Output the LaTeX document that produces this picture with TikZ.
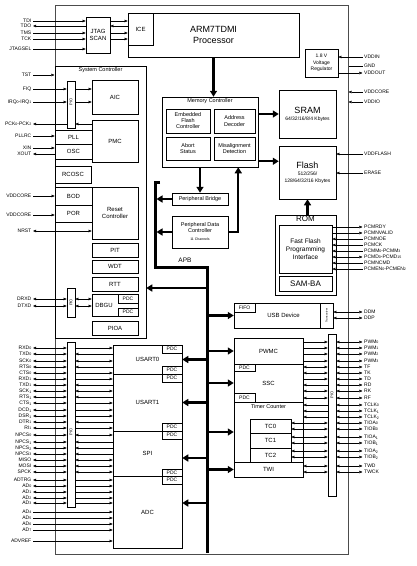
\documentclass[tikz,border=0pt]{standalone}
\usepackage{fontspec}
\setmainfont{Liberation Sans}
\usetikzlibrary{arrows.meta,positioning}
\newcommand\fsz[2]{\fontsize{#1}{#2}\selectfont}
\newcommand\lo[1]{\raisebox{-0.5pt}{\fsz{3.6}{4}#1}}

\begin{document}
\begin{tikzpicture}[
    x=1pt,y=-1pt,
    font=\fsz{6}{7},
    wh/.style 2 args={minimum width=#1pt,minimum height=#2pt},
    blk/.style={draw,line width=0.5pt,fill=white,inner sep=0.5pt,align=center},
    pdc/.style={blk,font=\fsz{5}{5}},
    sigl/.style={inner sep=1.5pt,font=\fsz{5}{5}},
    ttl/.style={inner sep=0pt,font=\fsz{5.5}{6}},
    arE/.style={-{Triangle[length=3.2pt,width=2.6pt]},line width=0.45pt},
    arS/.style={{Triangle[length=3.2pt,width=2.6pt]}-,line width=0.45pt},
    arB/.style={{Triangle[length=3.2pt,width=2.6pt]}-{Triangle[length=3.2pt,width=2.6pt]},line width=0.45pt},
    arN/.style={line width=0.45pt},
    bus/.style={line width=3pt},
    busar/.style={-{Triangle[length=6pt,width=7pt]},line width=2.2pt}
  ]
  \useasboundingbox (0,0) rectangle (416,566);

  % chip outline
  \node[blk,wh={293}{549},draw=black!70,line width=1pt] (chip) at (201.5,279.5) {};

  % core and jtag
  \node[blk,wh={171}{44},font=\fsz{9}{11}] (proc) at (213.5,35) {ARM7TDMI\\Processor};
  \node[blk,wh={25}{32}] (ice) at (140.5,29) {ICE};
  \node[blk,wh={24}{36}] (jtag) at (98,35) {JTAG\\SCAN};
  \node[blk,wh={33}{28},font=\fsz{5}{6.5}] (vreg) at (321.5,63) {1.8 V\\Voltage\\Regulator};

  % system controller
  \node[blk,wh={91}{272}] (sysc) at (100.5,202) {};
  \node[ttl,below=2pt of sysc.north] (sysct) {System Controller};
  \node[blk,wh={8}{47}] (sysPio) at (71,104.5) {};
  \node[ttl,rotate=90,font=\fsz{4}{4}] (sysPiot) at (71,102) {PIO};
  \node[blk,wh={46}{34}] (aic) at (115,97) {AIC};
  \node[blk,wh={46}{42}] (pmc) at (115,141) {PMC};
  \node[blk,wh={37}{14}] (pll) at (73.5,137) {PLL};
  \node[blk,wh={37}{15}] (osc) at (73.5,151.5) {OSC};
  \node[blk,wh={36}{17}] (rcosc) at (73,174.5) {RCOSC};
  \node[blk,wh={37}{18}] (bod) at (73.5,196) {BOD};
  \node[blk,wh={37}{17}] (por) at (73.5,213.5) {POR};
  \node[blk,wh={46}{52}] (rstc) at (115,213) {Reset\\Controller};
  \node[blk,wh={46}{14}] (pit) at (115,250) {PIT};
  \node[blk,wh={46}{13}] (wdt) at (115,266.5) {WDT};
  \node[blk,wh={46}{14}] (rtt) at (115,284) {RTT};
  \node[blk,wh={46}{22}] (dbgu) at (115,305) {};
  \node[ttl,font=\fsz{6}{7}] (dbgut) at (104,305) {DBGU};
  \node[pdc,wh={20}{9}] (dpdc1) at (128,298.5) {PDC};
  \node[pdc,wh={20}{8}] (dpdc2) at (128,312) {PDC};
  \node[blk,wh={46}{14}] (pioa) at (115,328) {PIOA};
  \node[blk,wh={8}{29}] (dbgPio) at (71,302.5) {};
  \node[ttl,rotate=90,font=\fsz{4}{4}] (dbgPiot) at (71,302.5) {PIO};

  % memory side
  \node[blk,wh={96}{70}] (memc) at (210,132) {};
  \node[ttl,below=2pt of memc.north] (memct) {Memory Controller};
  \node[blk,wh={44}{24},font=\fsz{5.5}{6}] (efc) at (188,121) {Embedded\\Flash\\Controller};
  \node[blk,wh={41}{24},font=\fsz{5.5}{6.5}] (adec) at (234.5,121) {Address\\Decoder};
  \node[blk,wh={44}{23},font=\fsz{5.5}{6.5}] (abort) at (188,148.5) {Abort\\Status};
  \node[blk,wh={41}{23},font=\fsz{5.5}{6.5}] (misal) at (234.5,148.5) {Misalignment\\Detection};
  \node[blk,wh={56}{12},font=\fsz{5.5}{6}] (bridge) at (200,199) {Peripheral Bridge};
  \node[blk,wh={56}{32},font=\fsz{5.5}{6}] (pdcc) at (200,232)
    {Peripheral Data\\Controller\\[2pt]{\fsz{3.5}{4}11 Channels}};
  \node[blk,wh={57}{48}] (sram) at (307.5,114)
    {{\fsz{9}{10}SRAM}\\{\fsz{5}{6}64/32/16/8/4 Kbytes}};
  \node[blk,wh={57}{53}] (flash) at (307.5,172.5)
    {{\fsz{9}{10}Flash}\\{\fsz{5}{5.5}512/256/}\\{\fsz{5}{5.5}128/64/32/16 Kbytes}};
  \node[blk,wh={61}{80}] (rom) at (305.5,255) {};
  \node[ttl,below=1pt of rom.north,font=\fsz{8}{8}] (romt) {ROM};
  \node[blk,wh={53}{48},font=\fsz{6.5}{8}] (ffpi) at (305.5,249) {Fast Flash\\Programming\\Interface};
  \node[blk,wh={53}{15},font=\fsz{8}{8}] (samba) at (305.5,283.5) {SAM-BA};

  % peripherals right
  \node[blk,wh={99}{25}] (usb) at (283.5,315.5) {USB Device};
  \node[pdc,wh={21}{9}] (fifo) at (244.5,307.5) {FIFO};
  \node[blk,wh={13}{25}] (xcvr) at (326.5,315.5) {};
  \node[ttl,rotate=90,font=\fsz{2.8}{3}] (xcvrt) at (xcvr) {Transceiver};
  \node[blk,wh={69}{26}] (pwmc) at (268.5,351) {PWMC};
  \node[blk,wh={69}{38}] (ssc) at (268.5,383) {SSC};
  \node[pdc,wh={21}{7}] (spdc1) at (244.5,367.5) {PDC};
  \node[pdc,wh={21}{9}] (spdc2) at (244.5,397.5) {PDC};
  \node[blk,wh={69}{60}] (tc) at (268.5,432) {};
  \node[ttl,below=3pt of tc.north,font=\fsz{5.5}{6}] (tct) {Timer Counter};
  \node[blk,wh={41}{14}] (tc0) at (270.5,426) {TC0};
  \node[blk,wh={41}{15}] (tc1) at (270.5,440.5) {TC1};
  \node[blk,wh={41}{14}] (tc2) at (270.5,455) {TC2};
  \node[blk,wh={69}{15}] (twi) at (268.5,469.5) {TWI};
  \node[blk,wh={8}{162}] (pioR) at (332,415) {};
  \node[ttl,rotate=90,font=\fsz{4}{4}] (pioRt) at (332,395) {PIO};

  % peripherals left
  \node[blk,wh={69}{29}] (us0) at (147.5,359.5) {USART0};
  \node[blk,wh={69}{57}] (us1) at (147.5,402.5) {USART1};
  \node[blk,wh={69}{45}] (spi) at (147.5,453.5) {SPI};
  \node[blk,wh={69}{72}] (adc) at (147.5,512) {ADC};
  \node[pdc,wh={20}{8}] (pdc1) at (172,349) {PDC};
  \node[pdc,wh={20}{8}] (pdc2) at (172,370) {PDC};
  \node[pdc,wh={20}{8}] (pdc3) at (172,378) {PDC};
  \node[pdc,wh={20}{8}] (pdc4) at (172,427) {PDC};
  \node[pdc,wh={20}{8}] (pdc5) at (172,435) {PDC};
  \node[pdc,wh={20}{7}] (pdc6) at (172,472.5) {PDC};
  \node[pdc,wh={20}{8}] (pdc7) at (172,480) {PDC};
  \node[blk,wh={8}{165}] (pioL) at (71,424.5) {};
  \node[ttl,rotate=90,font=\fsz{4}{4}] (pioLt) at (71,432) {PIO};

  % APB
  \coordinate (apbTop) at (160,182);
  \coordinate (apbL) at (155,182);
  \coordinate (apbKnee) at (155,267);
  \coordinate (apbR) at (207,267);
  \coordinate (apbEnd) at (207,553);
  \draw[bus] (apbTop) -- (apbL) -- (apbKnee) -- (apbR) -- (apbEnd);
  \node[ttl,font=\fsz{6.5}{7}] (apbt) at (185,260) {APB};

  \draw[busar,shorten >=1.5pt] (bridge.west) -- (bridge.west -| apbL);
  \draw[busar,shorten >=1.5pt] (pdcc.west) -- (pdcc.west -| apbL);
  \draw[busar] ([yshift=-4pt]rtt.east -| apbR) -- ([yshift=-4pt]rtt.east -| sysc.east);
  \foreach \p in {usb,pwmc,ssc,tc,twi}
    \draw[busar] (\p.west -| apbR) -- (\p.west);
  \foreach \p in {us0,us1}
    \draw[busar] (\p.east -| apbR) -- (\p.east);
  \draw[busar] ([yshift=-4.5pt]spi.east -| apbR) -- ([yshift=-4.5pt]spi.east);
  \draw[busar] ([yshift=9pt]adc.east -| apbR) -- ([yshift=9pt]adc.east);

  % memory paths
  \draw[busar] (proc.south) -- (proc.south |- memc.north);
  \draw[busar] (bridge.north |- memc.south) -- (bridge.north);
  \draw[busar] (pdcc.east) -| ([xshift=-20pt]memc.south east);
  \draw[busar] (memc.east |- sram.west) -- (sram.west);
  \draw[busar] ([yshift=6pt]memc.south east) -- ([yshift=6pt]memc.south east -| flash.west);
  \draw[busar] (flash.south |- rom.north) -- (flash.south);

  % left pins, system side
  \foreach \s/\y/\ar/\dst [count=\i] in {TDI/21/arE/jtag, TDO/26/arS/jtag, TMS/33/arE/jtag,
      TCK/39/arE/jtag, JTAGSEL/49/arE/jtag, TST/75/arE/chip, FIQ/89/arE/sysPio,
      IRQ\lo{0}-IRQ\lo{1}/102/arE/sysPio, PCK\lo{0}-PCK\lo{2}/124/arS/sysPio, PLLRC/136/arE/pll,
      XIN/148/arE/osc, XOUT/154/arS/osc, VDDCORE/196/arE/bod, VDDCORE/215/arE/por,
      NRST/231/arB/rstc, DRXD/299/arB/dbgPio, DTXD/306/arB/dbgPio}
  {
    \node[sigl,anchor=east] (ul\i) at (33,\y) {\s};
    \draw[\ar] (ul\i.east) -- (ul\i -| \dst.west);
  }
  \foreach \i/\ar in {1/arE,2/arS,3/arE,4/arE}
    \draw[\ar] (jtag.east |- ul\i) -- (ice.west |- ul\i);
  \draw[arE] (sysPio.east |- ul7) -- (aic.west |- ul7);
  \draw[arE] (sysPio.east |- ul8) -- (aic.west |- ul8);
  \draw[arS] (sysPio.east |- ul9) -- (pmc.west |- ul9);
  \draw[arB] (dbgPio.east |- ul16) -- (dbgu.west |- ul16);
  \draw[arB] (dbgPio.east |- ul17) -- (dbgu.west |- ul17);

  % left pins, peripherals
  \foreach \s/\y/\ar/\dst [count=\i] in {RXD\lo{0}/348/arE/us0, TXD\lo{0}/354/arS/us0,
      SCK\lo{0}/361/arB/us0, RTS\lo{0}/367/arS/us0, CTS\lo{0}/373/arE/us0,
      RXD\lo{1}/379/arE/us1, TXD\lo{1}/385/arS/us1, SCK\lo{1}/391/arB/us1, RTS\lo{1}/397/arS/us1,
      CTS\lo{1}/403/arE/us1, DCD\lo{1}/410/arE/us1, DSR\lo{1}/416/arE/us1, DTR\lo{1}/422/arS/us1,
      RI\lo{1}/428/arE/us1, NPCS\lo{0}/435/arB/spi, NPCS\lo{1}/442/arS/spi, NPCS\lo{2}/448/arS/spi,
      NPCS\lo{3}/454/arS/spi, MISO/460/arB/spi, MOSI/466/arB/spi, SPCK/472/arB/spi,
      ADTRG/480/arE/adc, AD\lo{0}/486/arE/adc, AD\lo{1}/492/arE/adc, AD\lo{2}/498/arE/adc,
      AD\lo{3}/503/arE/adc}
  {
    \node[sigl,anchor=east] (ll\i) at (33,\y) {\s};
    \draw[arB] (ll\i.east) -- (ll\i -| pioL.west);
    \draw[\ar] (ll\i -| pioL.east) -- (ll\i -| \dst.west);
  }
  \foreach \s/\y [count=\i] in {AD\lo{4}/512, AD\lo{5}/518, AD\lo{6}/524, AD\lo{7}/530, ADVREF/541}
  {
    \node[sigl,anchor=east] (la\i) at (33,\y) {\s};
    \draw[arE] (la\i.east) -- (la\i -| adc.west);
  }

  % right pins, upper
  \foreach \s/\y/\ar/\dst [count=\i] in {VDDIN/57/arS/vreg, GND/66/arN/chip, VDDOUT/73/arE/vreg,
      VDDCORE/92/arS/chip, VDDIO/102/arS/chip, VDDFLASH/154/arS/flash, ERASE/173/arS/flash,
      PCMRDY/227/arE/ffpi, PCMNVALID/233/arE/ffpi, PCMNOE/239/arS/ffpi, PCMCK/245/arS/ffpi,
      PCMM\lo{0}-PCMM\lo{3}/251/arS/ffpi, PCMD\lo{0}-PCMD\lo{15}/257/arB/ffpi,
      PCMNCMD/263/arS/ffpi, PCMEN\lo{0}-PCMEN\lo{2}/269/arS/ffpi, DDM/312/arB/xcvr, DDP/318/arB/xcvr}
  {
    \node[sigl,anchor=west] (ur\i) at (362.5,\y) {\s};
    \draw[\ar] (\dst.east |- ur\i) -- (ur\i.west);
  }

  % right pins, peripherals
  \foreach \s/\y/\ar/\dst [count=\i] in {PWM\lo{0}/342/arE/pwmc, PWM\lo{1}/348/arE/pwmc,
      PWM\lo{2}/354/arE/pwmc, PWM\lo{3}/361/arE/pwmc, TF/367/arB/ssc, TK/373/arB/ssc,
      TD/379/arE/ssc, RD/385/arS/ssc, RK/391/arB/ssc, RF/398/arB/ssc,
      TCLK\lo{0}/405/arS/tc, TCLK\lo{1}/411/arS/tc, TCLK\lo{2}/417/arS/tc,
      TIOA\lo{0}/423/arB/tc0, TIOB\lo{0}/429/arB/tc0, TIOA\lo{1}/437/arB/tc1, TIOB\lo{1}/443/arB/tc1,
      TIOA\lo{2}/451/arB/tc2, TIOB\lo{2}/457/arB/tc2, TWD/466/arB/twi, TWCK/472/arB/twi}
  {
    \node[sigl,anchor=west] (rl\i) at (362.5,\y) {\s};
    \draw[\ar] (\dst.east |- rl\i) -- (pioR.west |- rl\i);
    \draw[arB] (pioR.east |- rl\i) -- (rl\i.west);
  }
\end{tikzpicture}
\end{document}
